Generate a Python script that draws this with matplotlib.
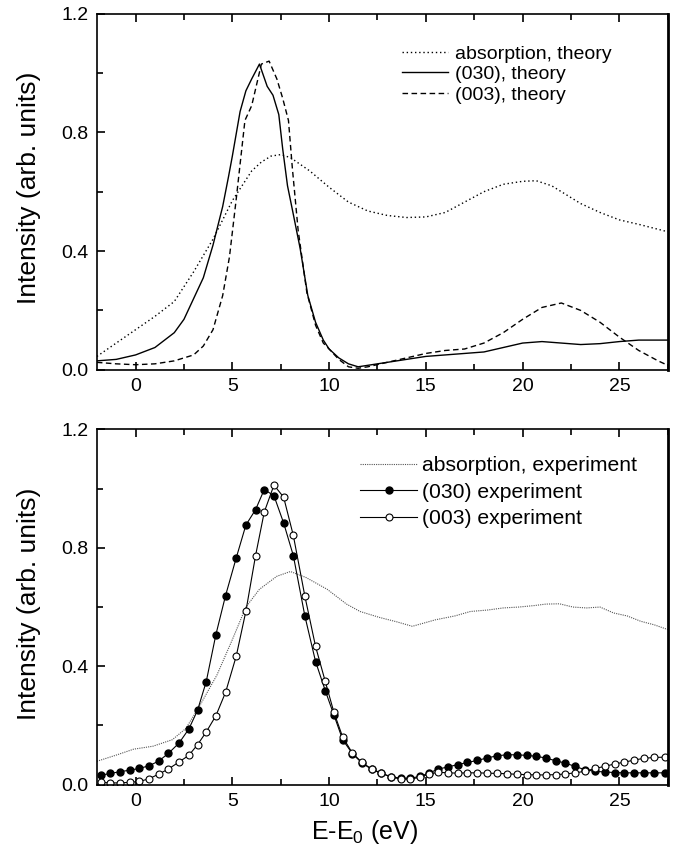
import matplotlib
matplotlib.use('Agg')
import matplotlib.pyplot as plt
from matplotlib.ticker import MultipleLocator

plt.rcParams['font.family'] = ['Liberation Sans', 'DejaVu Sans']
plt.rcParams['mathtext.fontset'] = 'custom'
plt.rcParams['mathtext.rm'] = 'Liberation Sans'
plt.rcParams['mathtext.default'] = 'rm'

# --- theory (upper panel) ---
x_abs_th = [-2, -1, 0, 1, 2, 3, 4, 5, 6, 6.5, 7, 7.5, 8, 9, 10, 11, 12, 13, 14, 15,
            16, 17, 18, 19, 20, 20.7, 21.5, 22, 23, 24, 25, 26, 27.5]
y_abs_th = [0.045, 0.09, 0.135, 0.18, 0.23, 0.33, 0.44, 0.57, 0.67, 0.70, 0.72, 0.725,
            0.715, 0.67, 0.615, 0.565, 0.535, 0.52, 0.513, 0.515, 0.53, 0.565, 0.60,
            0.625, 0.635, 0.637, 0.62, 0.60, 0.56, 0.53, 0.505, 0.49, 0.465]

x_030_th = [-2, -1, 0, 1, 2, 2.5, 3, 3.5, 4, 4.5, 4.8, 5.0, 5.4, 5.7, 6.0, 6.4, 6.8,
            7.1, 7.4, 7.6, 7.85, 8.1, 8.5, 8.9, 9.3, 9.7, 10, 10.5, 11, 11.5, 12, 13,
            14, 15, 16, 17, 18, 19, 20, 21, 22, 23, 24, 25, 26, 27.5]
y_030_th = [0.03, 0.035, 0.05, 0.075, 0.125, 0.17, 0.24, 0.31, 0.42, 0.55, 0.65, 0.72,
            0.87, 0.94, 0.98, 1.03, 0.955, 0.925, 0.86, 0.745, 0.62, 0.54, 0.41, 0.25,
            0.16, 0.10, 0.07, 0.04, 0.02, 0.01, 0.015, 0.025, 0.035, 0.045, 0.05, 0.055,
            0.06, 0.075, 0.09, 0.095, 0.09, 0.085, 0.088, 0.095, 0.10, 0.10]

x_003_th = [-2, -1, 0, 1, 2, 3, 3.5, 4, 4.5, 4.85, 5.2, 5.65, 6.0, 6.25, 6.5, 6.9, 7.3,
            7.6, 7.9, 8.1, 8.4, 8.85, 9.3, 9.7, 10, 10.5, 11, 11.5, 12, 13, 14, 15, 16,
            17, 18, 19, 20, 21, 22, 23, 24, 25, 26, 27, 27.5]
y_003_th = [0.025, 0.02, 0.017, 0.02, 0.03, 0.05, 0.08, 0.135, 0.25, 0.38, 0.575, 0.84,
            0.89, 0.96, 1.03, 1.04, 0.98, 0.915, 0.84, 0.68, 0.47, 0.26, 0.15, 0.09,
            0.07, 0.035, 0.01, 0.005, 0.01, 0.025, 0.04, 0.055, 0.065, 0.07, 0.09,
            0.125, 0.17, 0.21, 0.225, 0.20, 0.16, 0.11, 0.065, 0.03, 0.015]

# --- experiment (lower panel) ---
x_abs_ex = [-2, -1, -0.1, 0.9, 1.9, 2.6, 3.3, 4.2, 5.0, 5.7, 6.4, 7.3, 8.0, 8.8, 9.9,
            10.9, 11.6, 12.6, 13.5, 14.3, 15.5, 16.5, 17.3, 18.2, 19.0, 19.8, 20.6,
            21.2, 21.9, 22.6, 23.3, 24.0, 24.7, 25.4, 26.1, 26.8, 27.5]
y_abs_ex = [0.079, 0.10, 0.12, 0.13, 0.152, 0.19, 0.265, 0.37, 0.49, 0.60, 0.66, 0.704,
            0.72, 0.70, 0.66, 0.61, 0.585, 0.565, 0.55, 0.535, 0.557, 0.57, 0.585, 0.59,
            0.597, 0.60, 0.605, 0.61, 0.611, 0.60, 0.597, 0.60, 0.58, 0.57, 0.552, 0.54,
            0.524]

x_ex = [-1.8, -1.3, -0.8, -0.3, 0.2, 0.7, 1.2, 1.7, 2.25, 2.75, 3.2, 3.65, 4.15, 4.65,
        5.2, 5.7, 6.2, 6.65, 7.15, 7.65, 8.15, 8.75, 9.3, 9.8, 10.25, 10.7, 11.2, 11.7,
        12.2, 12.7, 13.2, 13.7, 14.2, 14.7, 15.15, 15.65, 16.15, 16.65, 17.15, 17.65,
        18.15, 18.7, 19.2, 19.7, 20.2, 20.7, 21.2, 21.7, 22.2, 22.7, 23.2, 23.75, 24.25,
        24.75, 25.25, 25.75, 26.25, 26.8, 27.35]
y_030_ex = [0.032, 0.038, 0.044, 0.049, 0.055, 0.064, 0.080, 0.106, 0.141, 0.188, 0.251,
            0.348, 0.507, 0.639, 0.766, 0.877, 0.929, 0.997, 0.976, 0.884, 0.774, 0.569,
            0.416, 0.318, 0.235, 0.152, 0.105, 0.073, 0.052, 0.038, 0.027, 0.022, 0.022,
            0.028, 0.039, 0.053, 0.060, 0.068, 0.075, 0.082, 0.090, 0.098, 0.101, 0.101,
            0.099, 0.096, 0.090, 0.081, 0.073, 0.062, 0.051, 0.045, 0.043, 0.041, 0.040,
            0.040, 0.040, 0.040, 0.040]
y_003_ex = [0.008, 0.006, 0.006, 0.008, 0.011, 0.020, 0.036, 0.053, 0.077, 0.099, 0.135,
            0.178, 0.233, 0.312, 0.434, 0.586, 0.774, 0.921, 1.012, 0.971, 0.842, 0.636,
            0.467, 0.349, 0.244, 0.161, 0.107, 0.075, 0.053, 0.039, 0.026, 0.019, 0.019,
            0.025, 0.036, 0.042, 0.040, 0.039, 0.040, 0.040, 0.039, 0.038, 0.037, 0.035,
            0.034, 0.033, 0.033, 0.034, 0.036, 0.040, 0.045, 0.055, 0.062, 0.070, 0.076,
            0.083, 0.089, 0.092, 0.093]

fig = plt.figure(figsize=(6.92, 8.52), dpi=100)
ax1 = fig.add_axes([0.140, 0.566, 0.825, 0.418])
ax2 = fig.add_axes([0.140, 0.079, 0.825, 0.417])

# oberes Panel: Theorie
ax1.plot(x_abs_th, y_abs_th, color='black', lw=1.0, ls=(0, (1, 2)), label='absorption, theory')
ax1.plot(x_030_th, y_030_th, color='black', lw=1.0, ls='-', label='(030), theory')
ax1.plot(x_003_th, y_003_th, color='black', lw=1.0, ls=(0, (4, 2.5)), label='(003), theory')

# unteres Panel: Experiment
ax2.plot(x_abs_ex, y_abs_ex, color='#555555', lw=0.8, ls=(0, (1, 1)), label='absorption, experiment')
ax2.plot(x_ex, y_030_ex, color='black', lw=0.8, marker='o', ms=5, mfc='black', mec='black',
         label='(030) experiment')
ax2.plot(x_ex, y_003_ex, color='black', lw=0.8, marker='o', ms=5, mfc='white', mec='black',
         mew=0.8, label='(003) experiment')

for ax in (ax1, ax2):
    ax.set_xlim(-2, 27.5)
    ax.set_ylim(0, 1.2)
    ax.xaxis.set_major_locator(MultipleLocator(5))
    ax.xaxis.set_minor_locator(MultipleLocator(2.5))
    ax.yaxis.set_minor_locator(MultipleLocator(0.2))
    ax.set_yticks([0, 0.4, 0.8, 1.2])
    ax.set_yticklabels(['0.0', '0.4', '0.8', '1.2'])
    ax.tick_params(which='both', direction='in', top=True, right=False, labelsize=14, pad=6)
    ax.tick_params(which='major', length=6, width=1.2)
    ax.tick_params(which='minor', length=4, width=1.2)
    for s in ax.spines.values():
        s.set_linewidth(1.2)
    ax.spines['right'].set_linewidth(2.0)
    ax.set_ylabel('Intensity (arb. units)', fontsize=19)
    ax.yaxis.set_label_coords(-0.098, 0.51)

ax1.legend(loc='upper left', bbox_to_anchor=(0.534, 0.912), frameon=False, fontsize=14,
           handlelength=2.4, handletextpad=0.35, labelspacing=0.15, borderpad=0,
           borderaxespad=0)
ax2.legend(loc='upper left', bbox_to_anchor=(0.461, 0.924), frameon=False, fontsize=15.2,
           handlelength=2.7, handletextpad=0.25, labelspacing=0.35, borderpad=0,
           borderaxespad=0)

ax2.set_xlabel('E-E$_0$ (eV)', fontsize=18)
ax2.xaxis.set_label_coords(0.469, -0.093)

plt.savefig('out.png', dpi=100)
